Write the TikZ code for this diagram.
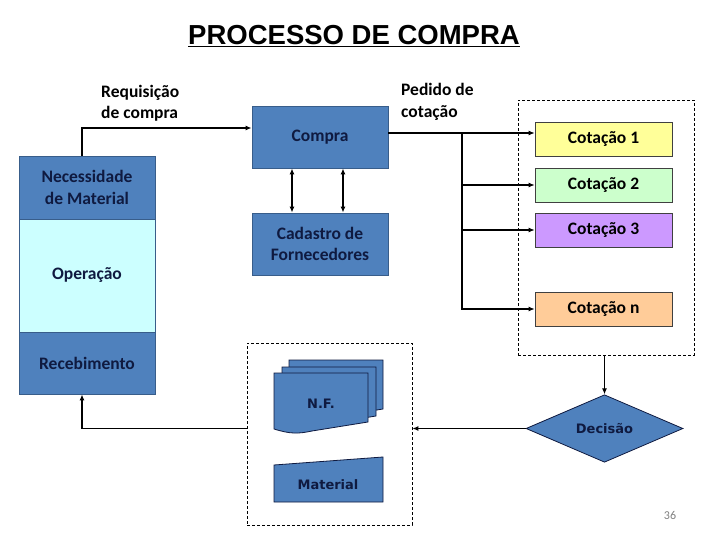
\documentclass[tikz,border=0pt]{standalone}
\usepackage{fontspec}
\setmainfont{Carlito}
\newfontfamily\arialf{Liberation Sans}
\newfontfamily\tahf{DejaVu Sans}
\usetikzlibrary{shapes.geometric,arrows.meta}
\definecolor{boxblue}{HTML}{4F81BD}
\definecolor{boxborder}{HTML}{385D8A}
\definecolor{navytext}{HTML}{0F1A40}
\definecolor{opfill}{HTML}{CCFFFF}
\definecolor{cotA}{HTML}{FFFF99}
\definecolor{cotB}{HTML}{CCFFCC}
\definecolor{cotC}{HTML}{CC99FF}
\definecolor{cotD}{HTML}{FFCC99}
\newcommand{\lblfont}{\bfseries\fontsize{17.5}{21.5}\selectfont}
\newcommand{\tahfont}{\tahf\bfseries\fontsize{13}{16}\selectfont}
\begin{document}
\begin{tikzpicture}[x=1pt,y=-1pt,
  bluebox/.style={draw=boxborder, fill=boxblue, line width=0.8pt, text=navytext, font=\lblfont, minimum width=136pt, inner sep=0pt, align=center},
  cotbox/.style={draw=black!75, line width=0.6pt, minimum width=137pt, minimum height=34pt, inner sep=0pt, font=\lblfont},
  arr/.style={line width=1.5pt, -{Latex[length=6pt,width=5pt]}},
  dblarr/.style={line width=1.5pt, {Latex[length=6pt,width=5pt]}-{Latex[length=6pt,width=5pt]}},
  dbox/.style={draw=black, dash pattern=on 3pt off 2pt, line width=0.7pt, inner sep=0pt},
  shp/.style={draw=navytext, fill=boxblue, line width=0.8pt},
  lbl/.style={font=\lblfont, align=left, inner sep=0pt}
]
\useasboundingbox (0,0) rectangle (720,540);
\fill[white] (0,0) rectangle (720,540);

% title
\node (title) at (354,36) {\arialf\bfseries\fontsize{27.5}{32}\selectfont\underline{PROCESSO DE COMPRA}};

% left column
\node[bluebox, minimum height=63pt] (nec) at (87,187.5) {Necessidade\\de Material};
\node[bluebox, fill=opfill, minimum height=113pt] (op) at (87,275.5) {Opera\c{c}\~ao};
\node[bluebox, minimum height=62pt] (rec) at (87,363) {Recebimento};

% center boxes
\node[bluebox, minimum height=62pt] (compra) at (320,137) {Compra};
\node[bluebox, minimum height=62pt] (cad) at (320,244) {Cadastro de\\Fornecedores};

% labels
\node[lbl, anchor=west] (req) at (101,103) {Requisi\c{c}\~ao\\de compra};
\node[lbl, anchor=west] (ped) at (401,102) {Pedido de\\cota\c{c}\~ao};

% dashed group right
\node[dbox, minimum width=176pt, minimum height=255pt] (dashR) at (606,227.5) {};
\node[cotbox, fill=cotA] (cot1) at (603.5,139) {Cota\c{c}\~ao 1};
\node[cotbox, fill=cotB] (cot2) at (603.5,185) {Cota\c{c}\~ao 2};
\node[cotbox, fill=cotC] (cot3) at (603.5,230) {Cota\c{c}\~ao 3};
\node[cotbox, fill=cotD] (cotn) at (603.5,309) {Cota\c{c}\~ao n};

% decision
\node[diamond, draw=navytext, fill=boxblue, line width=0.8pt, minimum width=157pt, minimum height=67pt, inner sep=0pt, text=navytext, font=\tahfont] (dec) at (604.5,428.5) {Decis\~ao};

% dashed group left
\node[dbox, minimum width=165pt, minimum height=182pt] (dashL) at (329.5,434) {};
% documents
\foreach \dx/\dy in {15/-13, 8/-6, 0/0}{
  \begin{scope}[shift={(\dx,\dy)}]
    \path[shp] (274,373) -- (368,373) -- (368,422) -- (312,431)
      .. controls (298,434) and (290,434) .. (274,429) -- cycle;
  \end{scope}
}
\node[text=navytext, font=\tahfont] (nf) at (321,404) {N.F.};
\path[shp] (274,465) -- (383,457) -- (383,502) -- (274,502) -- cycle;
\node[text=navytext, font=\tahfont] (mat) at (328,485) {Material};

% page number
\node[text=black!50, font=\fontsize{12}{14}\selectfont] (pg) at (670,515) {36};

% connectors
\coordinate (lx) at (82,0);
\coordinate (ry) at (0,128);
\coordinate (py) at (0,133);
\coordinate (vx) at (462,133);
\coordinate (dA) at (292,0);
\coordinate (dB) at (343,0);
\draw[arr] (lx |- nec.north) |- (compra.west |- ry);
\draw[arr] (compra.east |- py) -- (cot1.west |- py);
\draw[arr] (vx) |- (cotn.west);
\draw[arr] (vx |- cot2.west) -- (cot2.west);
\draw[arr] (vx |- cot3.west) -- (cot3.west);
\draw[dblarr] (dA |- compra.south) -- (dA |- cad.north);
\draw[dblarr] (dB |- compra.south) -- (dB |- cad.north);
\draw[arr] (dashR.south -| dec.north) -- (dec.north);
\draw[arr] (dec.west) -- (dec.west -| dashL.east);
\draw[arr] (dashL.west |- dec.west) -| (lx |- rec.south);
\end{tikzpicture}
\end{document}
